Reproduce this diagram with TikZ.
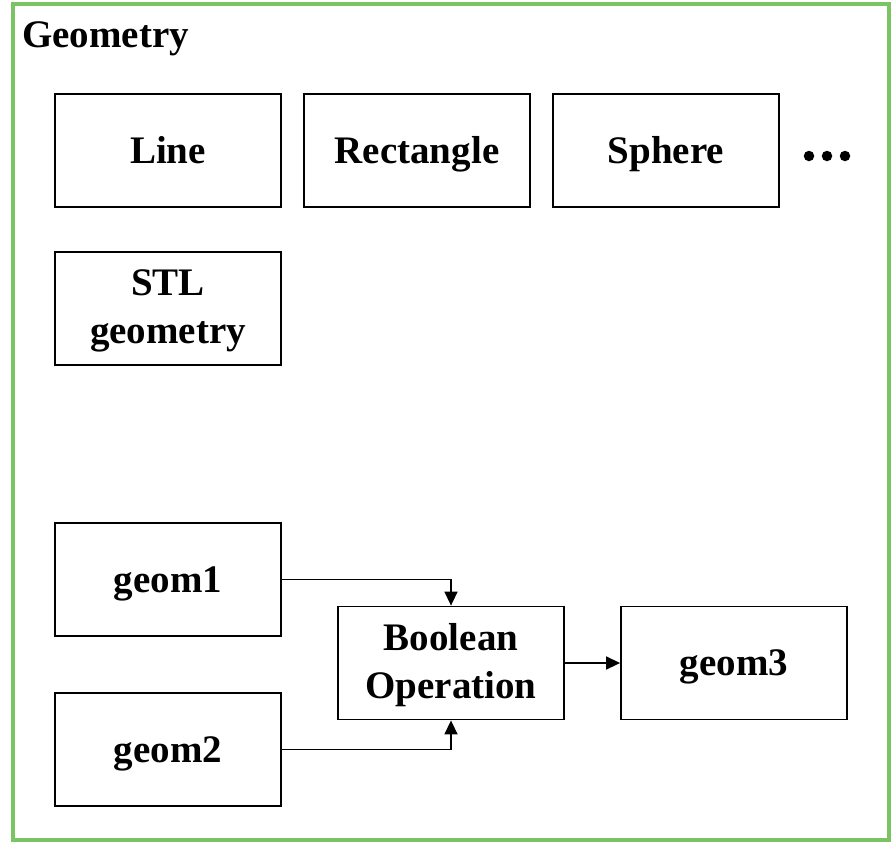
\documentclass[tikz,border=0pt]{standalone}
\usepackage{fontspec}
\setmainfont{Liberation Serif}
\usetikzlibrary{arrows.meta}
\definecolor{framegreen}{RGB}{122,196,100}
\tikzset{
  box/.style={draw, line width=1.8pt, minimum width=226pt, minimum height=113pt, inner sep=0pt,
    font=\fontsize{39}{48}\selectfont\bfseries, align=center},
  onebox/.style={box, text height=30pt, text depth=5pt},
  conn/.style={line width=1.5pt, -{Triangle[length=14pt,width=13pt]}},
  dotmark/.style={circle, fill=black, inner sep=0pt, minimum size=10.5pt},
  titletext/.style={font=\fontsize{39}{47}\selectfont\bfseries, inner sep=0pt, anchor=base west}
}
\begin{document}
\begin{tikzpicture}[x=1pt,y=-1pt]
\useasboundingbox (0,0) rectangle (893,844);
\draw[framegreen, line width=3.6pt] (12.8,3.8) rectangle (889,840);
\node[titletext] (title) at (22,47) {Geometry};
\node[onebox] (line) at (168,150.5) {Line};
\node[onebox] (rect) at (417,150.5) {Rectangle};
\node[onebox] (sphere) at (666,150.5) {Sphere};
\node[dotmark] (d1) at (809,156) {};
\node[dotmark] (d2) at (827,156) {};
\node[dotmark] (d3) at (845,156) {};
\node[box] (stl) at (168,308.5) {\rule{0pt}{31pt}STL\\geometry};
\node[onebox] (g1) at (168,579.5) {geom1};
\node[onebox] (g2) at (168,749.5) {geom2};
\node[box] (bool) at (451,663) {\rule{0pt}{31pt}Boolean\\Operation};
\node[onebox] (g3) at (734,663) {geom3};
\draw[conn] (g1.east) -| (bool.north);
\draw[conn] (g2.east) -| (bool.south);
\draw[conn] (bool.east) -- (g3.west);
\end{tikzpicture}
\end{document}
